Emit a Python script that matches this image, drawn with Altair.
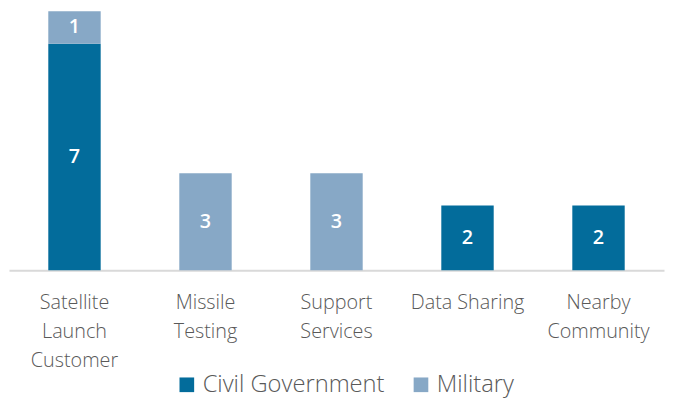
import altair as alt
import pandas as pd

categories = ["Satellite|Launch|Customer", "Missile|Testing", "Support|Services", "Data Sharing", "Nearby|Community"]
civil_government = [7, 0, 0, 2, 2]
military = [1, 3, 3, 0, 0]
series_names = ["Civil Government", "Military"]
colors = ["#036C9B", "#87A8C6"]

rows = []
for i, c in enumerate(categories):
    for s, vals, o in [(series_names[0], civil_government, 0), (series_names[1], military, 1)]:
        if vals[i] > 0:
            rows.append({"category": c, "series": s, "value": vals[i], "ord": o})
df = pd.DataFrame(rows)

FONT = "Open Sans"

base = alt.Chart(df).transform_stack(
    stack="value", groupby=["category"], as_=["y0", "y1"],
    sort=[alt.SortField("ord", order="ascending")]
).transform_calculate(mid="(datum.y0 + datum.y1) / 2")

xenc = alt.X("category:N", sort=categories, title=None,
             scale=alt.Scale(paddingInner=0.6, paddingOuter=0.3),
             axis=alt.Axis(labelExpr="split(datum.label, '|')", labelAngle=0,
                           labelFont=FONT, labelFontSize=20, labelFontWeight=300,
                           labelColor="#595959",
                           labelLineHeight=29, labelPadding=23, ticks=False,
                           domainColor="#D9D9D9", domainWidth=2, labelBaseline="top"))
yscale = alt.Scale(domain=[0, 8], nice=False)

bars = base.mark_bar().encode(
    x=xenc,
    y=alt.Y("y0:Q", scale=yscale, axis=None),
    y2="y1:Q",
    color=alt.Color("series:N", scale=alt.Scale(domain=series_names, range=colors),
                    legend=alt.Legend(title=None, orient="none", direction="horizontal",
                                      legendX=168, legendY=366,
                                      symbolType="square", symbolSize=220, symbolStrokeWidth=0,
                                      labelFont=FONT, labelFontSize=24, labelFontWeight=300,
                                      labelColor="#595959",
                                      labelLimit=0, columnPadding=24, symbolOpacity=1)),
)

labels = base.mark_text(font=FONT, fontSize=20, color="white", fontWeight=600, baseline="middle").encode(
    x=alt.X("category:N", sort=categories),
    y=alt.Y("mid:Q", scale=yscale),
    text="value:Q",
)

chart = alt.layer(bars, labels).properties(
    width=663, height=262, padding={"left": 1, "top": 1, "right": 1, "bottom": 1}
).configure_view(stroke=None)

chart.save("out.html", embed_options={"renderer": "svg", "actions": False})
